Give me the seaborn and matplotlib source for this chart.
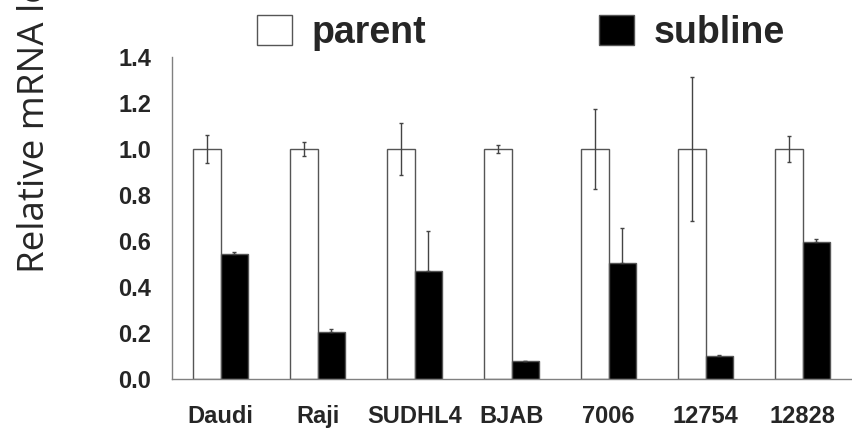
import numpy as np
import pandas as pd
import matplotlib
matplotlib.use("Agg")
import matplotlib.pyplot as plt
from matplotlib.patches import Patch
import seaborn as sns

# values
cell_lines = ["Daudi", "Raji", "SUDHL4", "BJAB", "7006", "12754", "12828"]
parent_mean = [1.0, 1.0, 1.0, 1.0, 1.0, 1.0, 1.0]
parent_err = [0.062, 0.030, 0.115, 0.018, 0.175, 0.315, 0.056]
subline_mean = [0.542, 0.206, 0.471, 0.078, 0.506, 0.101, 0.597]
subline_err = [0.009, 0.010, 0.174, 0.002, 0.150, 0.003, 0.012]
yticks = [0.0, 0.2, 0.4, 0.6, 0.8, 1.0, 1.2, 1.4]

df = pd.DataFrame({
    "line": cell_lines * 2,
    "group": ["parent"] * len(cell_lines) + ["subline"] * len(cell_lines),
    "value": parent_mean + subline_mean,
})

sns.set_style("white")
plt.rcParams["font.family"] = ["Liberation Sans", "DejaVu Sans"]

fig = plt.figure(figsize=(8.52, 4.28), dpi=100)
ax = fig.add_axes([0.2019, 0.1145, 0.797, 0.7523])

sns.barplot(data=df, x="line", y="value", hue="group", order=cell_lines,
            hue_order=["parent", "subline"], palette=["white", "black"],
            width=0.57, errorbar=None, legend=False, ax=ax,
            edgecolor="#555555", linewidth=1.0, saturation=1)

# error bars: parent on top of the white bars, subline only upward
for cont, err, upper_only in zip(ax.containers, [parent_err, subline_err], [False, True]):
    xs = [p.get_x() + p.get_width() / 2 for p in cont.patches]
    ys = [p.get_height() for p in cont.patches]
    yerr = [np.zeros(len(err)), err] if upper_only else err
    ax.errorbar(xs, ys, yerr=yerr, fmt="none", ecolor="#444444",
                elinewidth=1.0, capsize=1.5, capthick=1.0, zorder=5)

ax.set_xlim(-0.5, len(cell_lines) - 0.5)
ax.set_ylim(0, 1.4)
ax.set_yticks(yticks)
ax.set_yticklabels([f"{t:.1f}" for t in yticks], fontsize=17, fontweight="bold")
ax.set_xticks(range(len(cell_lines)))
ax.set_xticklabels(cell_lines, fontsize=17, fontweight="bold")
ax.set_xticks(np.arange(-0.5, len(cell_lines), 1.0), minor=True)
ax.tick_params(axis="x", which="major", length=0, pad=19)
ax.tick_params(axis="x", which="minor", length=6, width=1, color="#808080", direction="out")
ax.tick_params(axis="y", length=6, width=1, color="#808080", direction="out", pad=9)
ax.set_xlabel("")
ax.set_ylabel("")

for side in ["top", "right"]:
    ax.spines[side].set_visible(False)
for side in ["left", "bottom"]:
    ax.spines[side].set_color("#808080")
    ax.spines[side].set_linewidth(1.0)

fig.text(0.041, 1 - 273 / 428, "Relative mRNA level", rotation=90, ha="center",
         va="bottom", fontsize=26.5, family=["Open Sans", "DejaVu Sans"])

handles = [Patch(facecolor="white", edgecolor="#555555", linewidth=1.0),
           Patch(facecolor="black", edgecolor="#555555", linewidth=1.0)]
fig.legend(handles, ["parent", "subline"], ncol=2, frameon=False,
           loc="upper left", bbox_to_anchor=(257 / 852, 0.966),
           prop={"family": "Liberation Sans", "weight": "bold", "size": 27},
           handlelength=0.93, handleheight=0.88, handletextpad=0.53,
           columnspacing=4.6, borderpad=0, borderaxespad=0)

fig.savefig("out.png", dpi=100)
